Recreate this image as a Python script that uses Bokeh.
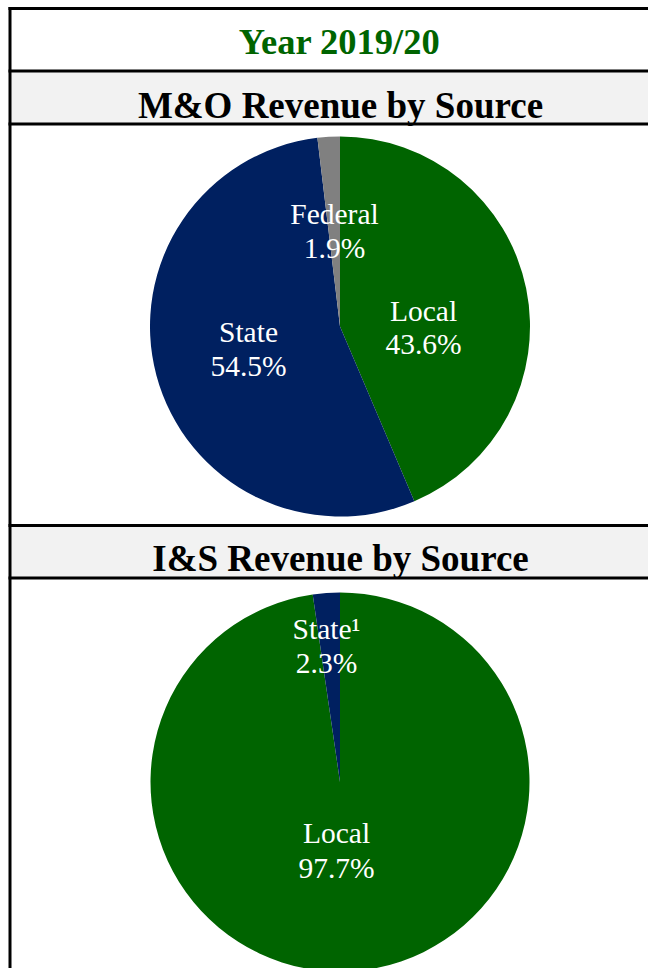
import math
from bokeh.plotting import figure
from bokeh.models import Range1d, ColumnDataSource
from bokeh.core.properties import value
from bokeh.embed import file_html
from bokeh.resources import INLINE

# ---- data ----
title_text = "Year 2019/20"
mo_title = "M&O Revenue by Source"
is_title = "I&S Revenue by Source"

mo_sources = ["Local", "State", "Federal"]
mo_values = [43.6, 54.5, 1.9]
mo_colors = ["#006400", "#002060", "#808080"]

is_sources = ["Local", "State¹"]
is_values = [97.7, 2.3]
is_colors = ["#006400", "#002060"]

# ---- layout (figure pixel coordinates, y downward) ----
W, H = 648, 968
TXT = 11  # baseline correction


def Y(py):
    return H - py


FONT = value("Liberation Serif")

p = figure(width=W, height=H, output_backend="svg", toolbar_location=None,
           x_range=Range1d(0, W), y_range=Range1d(0, H),
           min_border=0, outline_line_color=None, background_fill_color="white")
p.axis.visible = False
p.grid.visible = False

# header bands
p.quad(left=[10, 10], right=[W, W], top=[Y(71), Y(525)], bottom=[Y(123), Y(577)],
       fill_color="#f2f2f2", line_color=None)


def pie(cx, cy, r, values, colors, labels, label_pos):
    total = sum(values)
    cum = 0.0
    starts, ends = [], []
    for v in values:
        a0 = math.pi / 2 - 2 * math.pi * cum / total
        cum += v
        a1 = math.pi / 2 - 2 * math.pi * cum / total
        starts.append(a1)
        ends.append(a0)
    src = ColumnDataSource(dict(x=[cx] * len(values), y=[Y(cy)] * len(values),
                                start=starts, end=ends, color=colors))
    p.wedge(x="x", y="y", radius=r, start_angle="start", end_angle="end",
            fill_color="color", line_color=None, source=src)
    names, pcts, xs, y1, y2 = [], [], [], [], []
    for lab, v, (lx, ly1, ly2) in zip(labels, values, label_pos):
        names.append(lab)
        pcts.append(f"{v:.1f}%")
        xs.append(lx)
        y1.append(Y(ly1 - TXT))
        y2.append(Y(ly2 - TXT))
    p.text(x=xs + xs, y=y1 + y2, text=names + pcts, text_font=FONT,
           text_font_size="29.5px", text_color="white", text_align="center",
           text_baseline="alphabetic")


pie(339.5, 326, 190, mo_values, mo_colors, mo_sources,
    [(423, 321, 354), (248, 342, 376), (334, 224, 258)])
pie(339.5, 781.5, 189.5, is_values, is_colors, is_sources,
    [(336, 843, 878), (326, 639, 673)])

# border lines
ys = [8, 70.5, 123.5, 525, 577.5]
p.segment(x0=[8] * 5, x1=[W] * 5, y0=[Y(v) for v in ys], y1=[Y(v) for v in ys],
          line_color="black", line_width=3)
p.segment(x0=[9.5], x1=[9.5], y0=[Y(6.5)], y1=[Y(H)], line_color="black", line_width=3)

# titles
p.text(x=[339], y=[Y(52 - TXT)], text=[title_text], text_font=FONT, text_font_size="36.5px",
       text_font_style="bold", text_color="#006400", text_align="center",
       text_baseline="alphabetic")
p.text(x=[340, 340], y=[Y(116 - TXT), Y(569 - TXT)], text=[mo_title, is_title], text_font=FONT,
       text_font_size="37px", text_font_style="bold", text_color="black",
       text_align="center", text_baseline="alphabetic")

open("out.html", "w").write(file_html(p, INLINE))
